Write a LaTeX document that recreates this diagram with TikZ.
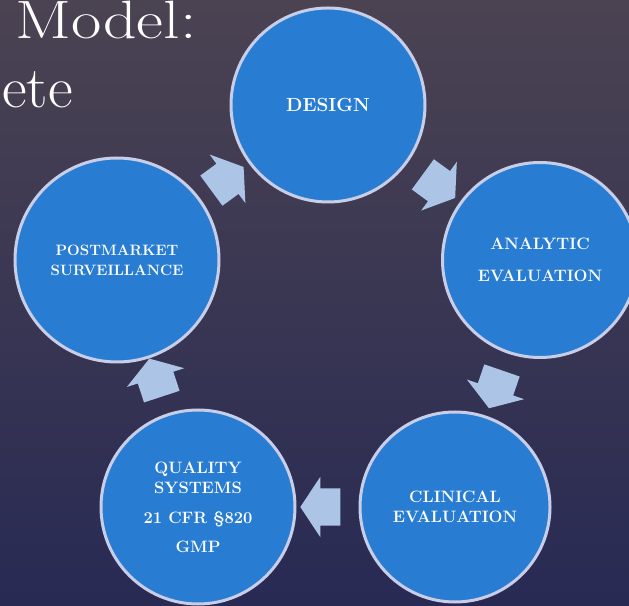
\documentclass[tikz,border=0pt]{standalone}
\usepackage{amssymb}
\usepackage{amsmath}
\usepackage{tikz}
\usetikzlibrary{calc,shapes.arrows}

\definecolor{bgtop}{RGB}{75,67,82}
\definecolor{bgbot}{RGB}{40,42,84}
\definecolor{stagefill}{RGB}{40,125,210}
\definecolor{stagering}{RGB}{200,205,232}
\definecolor{flowfill}{RGB}{172,196,230}

\begin{document}
\begin{tikzpicture}[x=1pt,y=1pt,
  stage/.style={circle,fill=stagefill,draw=stagering,line width=3pt,inner sep=0pt,
    text=white,align=center,font=\bfseries\fontsize{16.5}{20}\selectfont},
  flow/.style={single arrow,fill=flowfill,inner sep=0pt,minimum height=40pt,
    single arrow head extend=11.5pt,single arrow tip angle=113},
  heading/.style={text=white,font=\fontsize{54}{60}\selectfont,inner sep=0pt}]

\useasboundingbox (0,0) rectangle (629,605);
\clip (0,0) rectangle (629,605);
\shade[top color=bgtop,bottom color=bgbot] (0,0) rectangle (629,605);

\node[heading,anchor=base west] (title) at (15,566) {\scalebox{1.22}[1]{Model:}};
\node[heading,anchor=base east] (subtitle) at (73,497) {\scalebox{1.12}[1.08]{ete}};

\node[stage,minimum size=194pt,font=\bfseries\fontsize{19}{22}\selectfont] (design) at (328,500) {DESIGN};
\node[stage,minimum size=195pt] (analytic) at (540,345) {ANALYTIC\\[12pt]EVALUATION};
\node[stage,minimum size=190pt] (clinical) at (455,98) {CLINICAL\\EVALUATION};
\node[stage,minimum size=194pt] (quality) at (198,98) {QUALITY\\SYSTEMS\\[10pt]21 CFR \S820\\[9pt]GMP};
\node[stage,minimum size=204pt,font=\bfseries\fontsize{15}{20}\selectfont] (post) at (117,345) {POSTMARKET\\SURVEILLANCE};

% arrows between the stages
\foreach \src/\dst in {post/design,design/analytic,analytic/clinical,clinical/quality,quality/post}
  \path let \p1=($(\dst)-(\src)$), \n1={atan2(\y1,\x1)} in
    node[flow,rotate=\n1] (\src-\dst) at ($(\src)!0.5!(\dst)$) {\rule{0pt}{37pt}};

\end{tikzpicture}
\end{document}
